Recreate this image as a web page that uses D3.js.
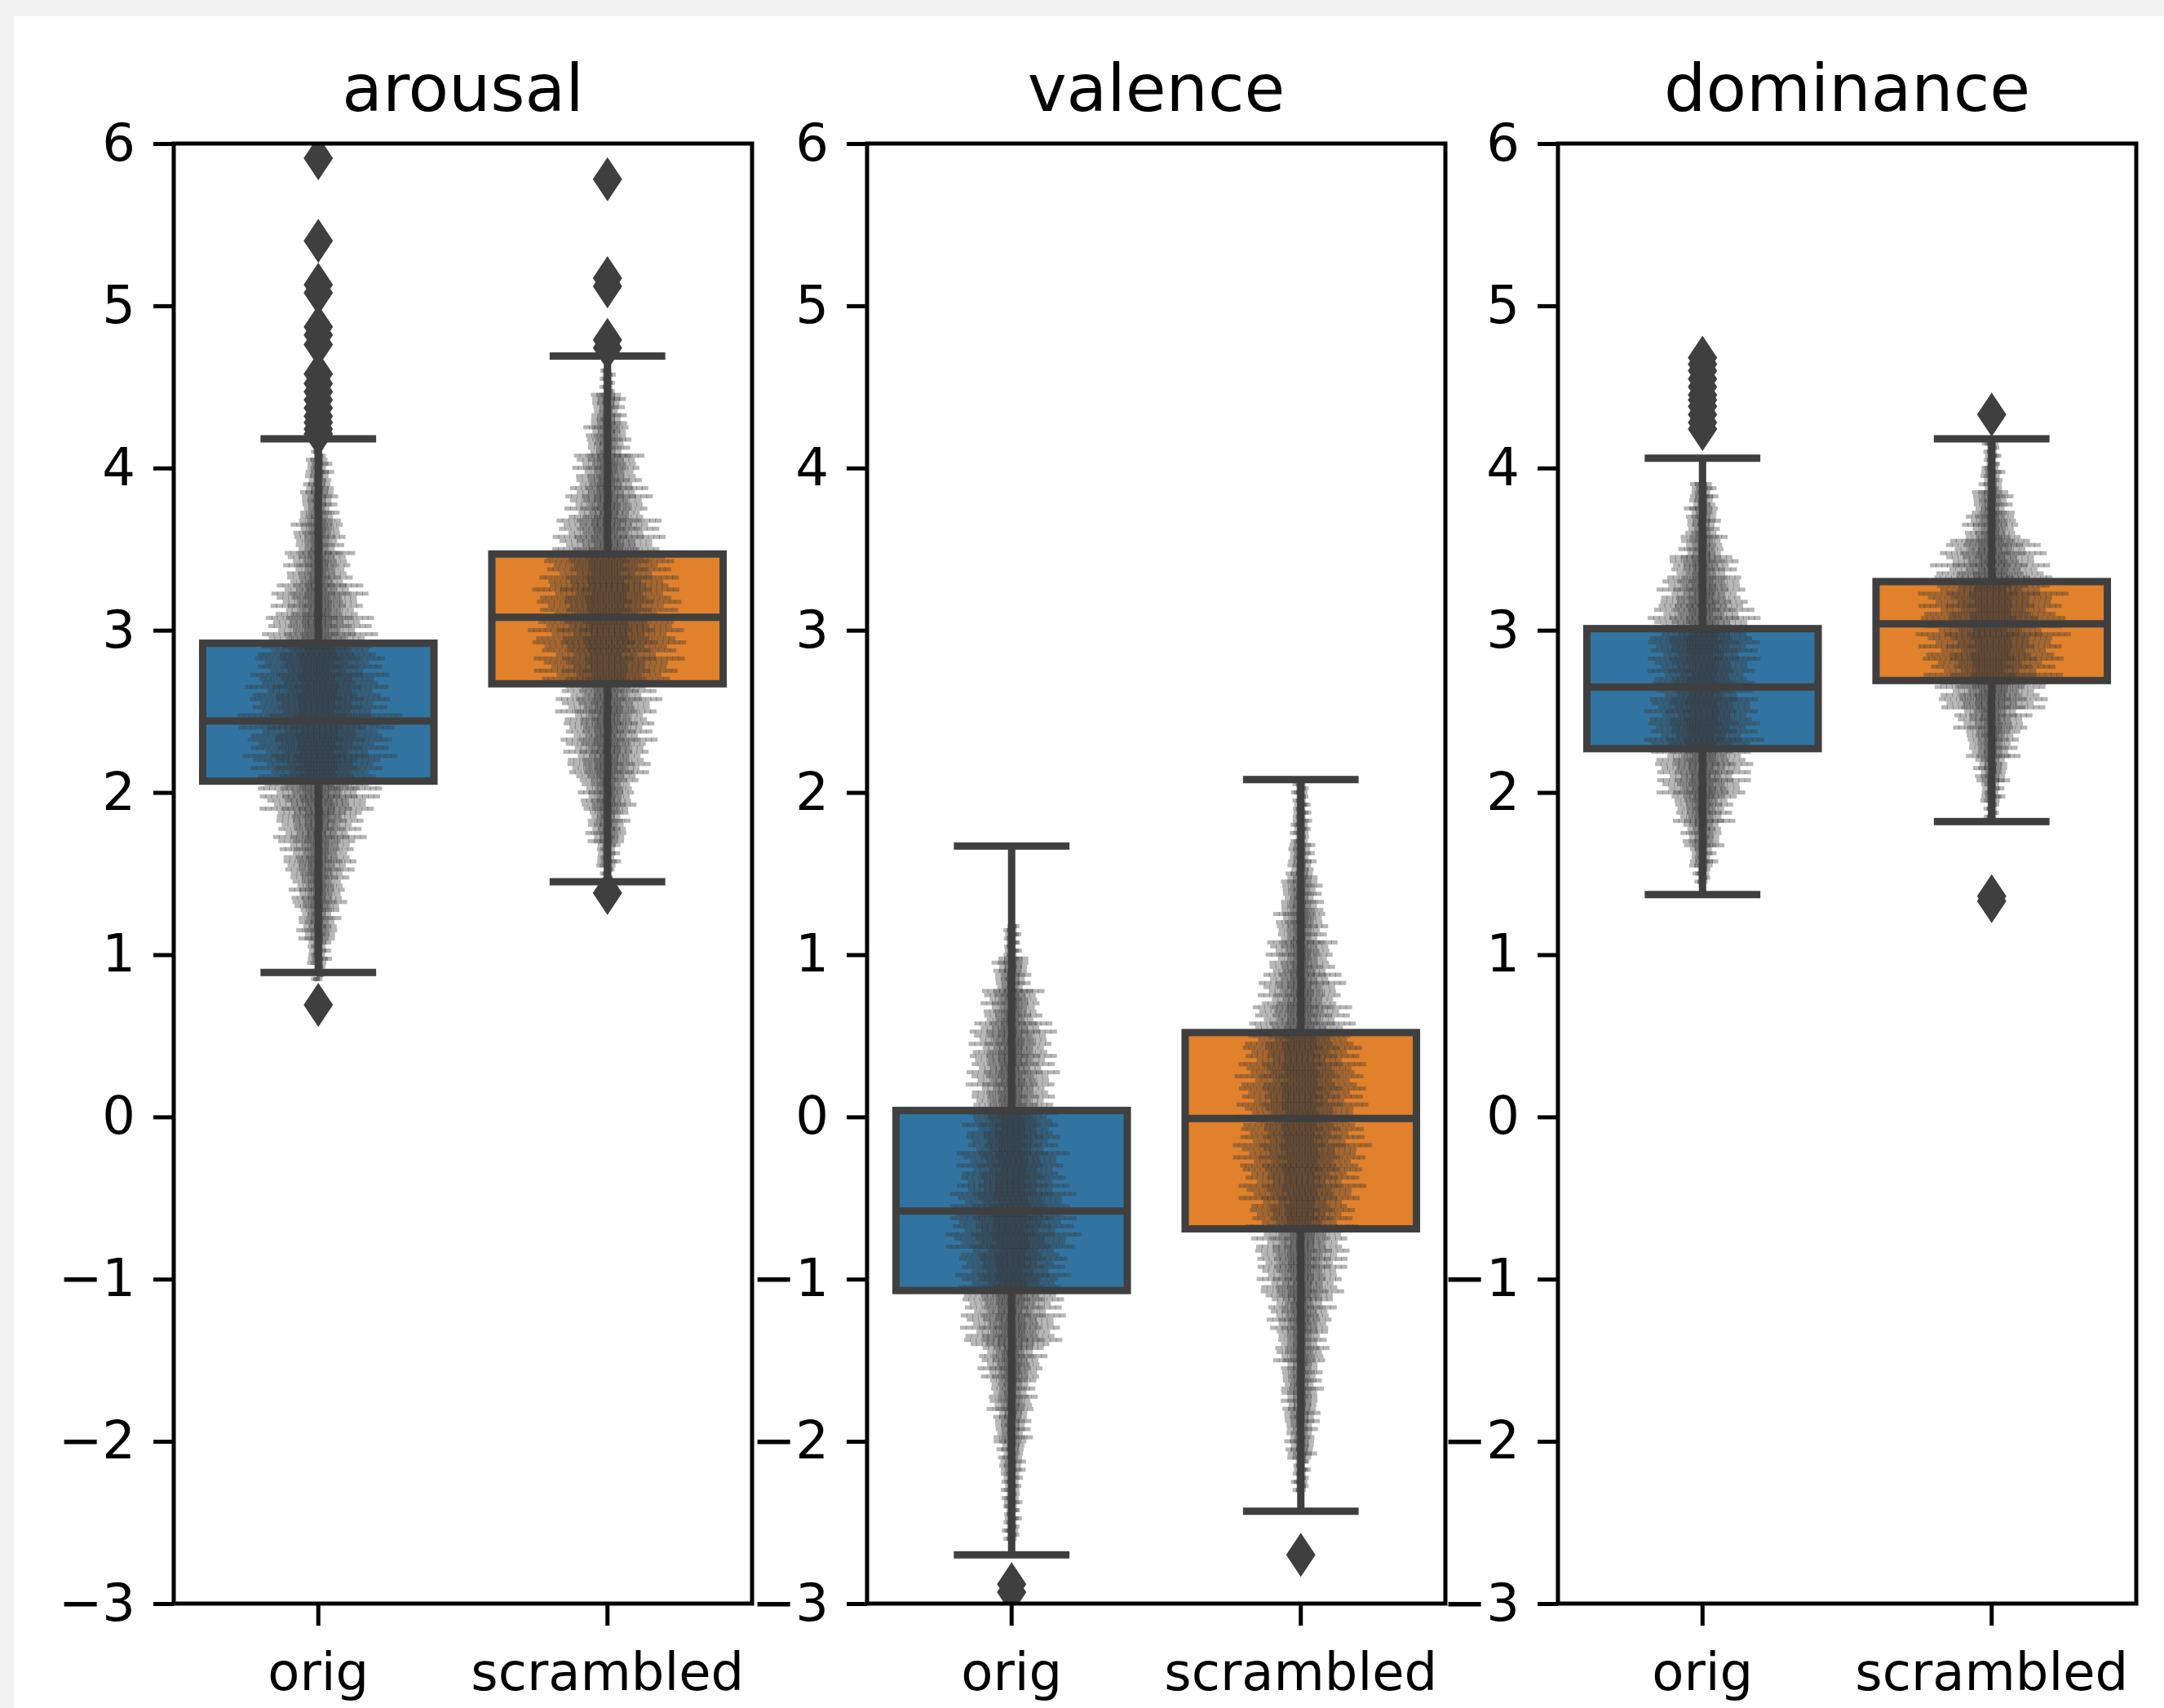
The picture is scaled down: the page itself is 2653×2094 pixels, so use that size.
<!DOCTYPE html>
<html lang="en">
<head>
<meta charset="UTF-8">
<title>arousal / valence / dominance</title>
<script src="https://d3js.org/d3.v7.min.js"></script>
<style>
    body { margin: 0; background: #f2f2f2; }
    #chart { position: absolute; left: 17px; top: 20px; background: #fff; }
    text { font-family: "DejaVu Sans", sans-serif; fill: #000; }
</style>
</head>
<body>
<svg id="chart" width="2636" height="2074"></svg>
<script>
// categories, panels and ticks
const categories = ["orig", "scrambled"];
const panels = ["arousal", "valence", "dominance"];
const yTicks = [-3, -2, -1, 0, 1, 2, 3, 4, 5, 6];
const boxColors = ["#3274a1", "#e1812c"];

// box stats per category: [lower whisker, q1, median, q3, upper whisker]
const arousalBox = [[0.89, 2.07, 2.44, 2.92, 4.18], [1.45, 2.67, 3.08, 3.47, 4.69]];
const valenceBox = [[-2.70, -1.07, -0.58, 0.04, 1.67], [-2.43, -0.69, -0.01, 0.52, 2.08]];
const dominanceBox = [[1.37, 2.27, 2.65, 3.01, 4.06], [1.82, 2.69, 3.04, 3.30, 4.18]];

// fliers
const arousalOutliers = [
    [5.91, 5.40, 5.13, 5.08, 4.87, 4.82, 4.76, 4.58, 4.52, 4.47, 4.42, 4.37, 4.32, 4.28, 4.24, 4.21, 0.69],
    [5.78, 5.17, 5.12, 4.79, 4.74, 1.38]
];
const valenceOutliers = [[-2.88, -2.93], [-2.70]];
const dominanceOutliers = [
    [4.68, 4.64, 4.60, 4.55, 4.50, 4.45, 4.42, 4.38, 4.33, 4.28, 4.24],
    [4.33, 1.36, 1.33]
];

// swarm spread: [value, half-width in category units]
const arousalSwarm = [
    [[4.15, .017], [4.0, .040], [3.8, .056], [3.6, .079], [3.4, .102], [3.2, .141], [3.0, .169], [2.8, .203],
     [2.6, .220], [2.45, .240], [2.3, .226], [2.1, .203], [1.95, .175], [1.8, .136], [1.6, .113], [1.4, .085],
     [1.2, .062], [1.0, .034], [0.9, .017]],
    [[4.55, .020], [4.4, .051], [4.2, .068], [4.0, .102], [3.8, .127], [3.6, .164], [3.4, .203], [3.2, .226],
     [3.0, .240], [2.8, .220], [2.6, .155], [2.4, .141], [2.2, .130], [2.0, .085], [1.8, .062], [1.6, .034],
     [1.5, .017]]
];
const valenceSwarm = [
    [[1.1, .023], [0.9, .056], [0.7, .090], [0.5, .127], [0.3, .136], [0.1, .130], [-0.1, .147], [-0.3, .164],
     [-0.5, .184], [-0.7, .198], [-0.9, .169], [-1.1, .158], [-1.3, .153], [-1.5, .099], [-1.7, .071],
     [-1.9, .056], [-2.1, .040], [-2.3, .028], [-2.5, .023]],
    [[2.0, .023], [1.8, .028], [1.6, .040], [1.4, .062], [1.2, .079], [1.0, .102], [0.8, .127], [0.6, .155],
     [0.4, .186], [0.2, .198], [0.0, .192], [-0.2, .203], [-0.4, .186], [-0.6, .164], [-0.8, .147],
     [-1.0, .130], [-1.2, .099], [-1.4, .079], [-1.6, .062], [-1.8, .056], [-2.0, .045], [-2.2, .023]]
];
const dominanceSwarm = [
    [[3.85, .040], [3.7, .051], [3.55, .068], [3.4, .107], [3.25, .136], [3.1, .164], [2.95, .175], [2.8, .164],
     [2.65, .158], [2.5, .175], [2.35, .175], [2.2, .153], [2.05, .136], [1.9, .090], [1.75, .062], [1.6, .040],
     [1.5, .023]],
    [[4.1, .023], [3.95, .034], [3.8, .062], [3.65, .085], [3.5, .155], [3.35, .184], [3.2, .220], [3.05, .226],
     [2.9, .220], [2.75, .203], [2.6, .170], [2.45, .113], [2.3, .079], [2.15, .051], [2.0, .034], [1.9, .020]]
];

const boxData = [arousalBox, valenceBox, dominanceBox];
const outlierData = [arousalOutliers, valenceOutliers, dominanceOutliers];
const swarmData = [arousalSwarm, valenceSwarm, dominanceSwarm];

// layout
const panelLeft = [196, 1046, 1893];
const panelTop = 156;
const width = 709;
const height = 1790;
const lineColor = "#3f3f3f";

const svg = d3.select("#chart");

const x = d3.scaleBand().domain(categories).range([0, width]).padding(0);
const y = d3.scaleLinear().domain([-3, 6]).range([height, 0]);
const boxW = x.step() * 0.8;

// row texture for the swarm
const rowMult = [1, 0.82, 1.12, 0.9, 0.97, 1.18, 0.78, 1.05, 0.88, 1.1];
const layers = [1, 0.62, 0.32];

panels.forEach((name, p) => {
    const g = svg.append("g")
        .attr("transform", `translate(${panelLeft[p]},${panelTop})`);

    g.append("clipPath").attr("id", "clip" + p)
        .append("rect").attr("width", width).attr("height", height);

    const plot = g.append("g").attr("clip-path", `url(#clip${p})`);

    categories.forEach((cat, c) => {
        const cx = x(cat) + x.bandwidth() / 2;
        const [wLo, q1, med, q3, wHi] = boxData[p][c];

        // box fill
        plot.append("rect")
            .attr("x", cx - boxW / 2)
            .attr("y", y(q3))
            .attr("width", boxW)
            .attr("height", y(q1) - y(q3))
            .attr("fill", boxColors[c]);

        // swarm points
        const prof = swarmData[p][c].slice().sort((a, b) => a[0] - b[0]);
        const dots = [];
        let row = 0;
        prof.forEach((lv, i) => {
            const lo = i === 0 ? lv[0] - (prof[1][0] - lv[0]) / 2 : (prof[i - 1][0] + lv[0]) / 2;
            const hi = i === prof.length - 1 ? lv[0] + (lv[0] - prof[i - 1][0]) / 2 : (prof[i + 1][0] + lv[0]) / 2;
            for (let py = y(lo); py > y(hi); py -= 5) {
                const w = lv[1] * x.step() * rowMult[row % rowMult.length];
                layers.forEach(L => {
                    const half = Math.max(3, w * L);
                    const n = Math.max(1, Math.round(2 * half / 7));
                    const sp = 2 * half / n;
                    for (let k = 0; k < n; k++) {
                        dots.push([cx - half + (k + 0.5) * sp + (row % 2 ? 2 : -2), py]);
                    }
                });
                row++;
            }
        });
        plot.append("g")
            .selectAll("rect")
            .data(dots)
            .join("rect")
            .attr("x", d => d[0] - 4)
            .attr("y", d => d[1] - 2.5)
            .attr("width", 8)
            .attr("height", 5)
            .attr("fill", "#383838")
            .attr("fill-opacity", 0.37);

        // whiskers and caps
        plot.append("line")
            .attr("x1", cx).attr("x2", cx)
            .attr("y1", y(wHi)).attr("y2", y(q3))
            .attr("stroke", lineColor).attr("stroke-width", 9);
        plot.append("line")
            .attr("x1", cx).attr("x2", cx)
            .attr("y1", y(q1)).attr("y2", y(wLo))
            .attr("stroke", lineColor).attr("stroke-width", 9);
        [wLo, wHi].forEach(v => {
            plot.append("line")
                .attr("x1", cx - boxW / 4).attr("x2", cx + boxW / 4)
                .attr("y1", y(v)).attr("y2", y(v))
                .attr("stroke", lineColor).attr("stroke-width", 9);
        });

        // box outline + median
        plot.append("rect")
            .attr("x", cx - boxW / 2)
            .attr("y", y(q3))
            .attr("width", boxW)
            .attr("height", y(q1) - y(q3))
            .attr("fill", "none")
            .attr("stroke", lineColor)
            .attr("stroke-width", 9);
        plot.append("line")
            .attr("x1", cx - boxW / 2).attr("x2", cx + boxW / 2)
            .attr("y1", y(med)).attr("y2", y(med))
            .attr("stroke", lineColor).attr("stroke-width", 9);

        // fliers (thin diamonds)
        plot.append("g")
            .selectAll("path")
            .data(outlierData[p][c])
            .join("path")
            .attr("transform", d => `translate(${cx},${y(d)})`)
            .attr("d", "M0,-27L18,0L0,27L-18,0Z")
            .attr("fill", lineColor);
    });

    // frame
    g.append("rect")
        .attr("width", width)
        .attr("height", height)
        .attr("fill", "none")
        .attr("stroke", "#000")
        .attr("stroke-width", 5);

    // axes
    const yAxis = g.append("g")
        .call(d3.axisLeft(y).tickValues(yTicks).tickSize(25).tickPadding(22));
    const xAxis = g.append("g")
        .attr("transform", `translate(0,${height})`)
        .call(d3.axisBottom(x).tickSize(27).tickPadding(34));
    [yAxis, xAxis].forEach(a => {
        a.select(".domain").remove();
        a.selectAll(".tick line").attr("stroke", "#000").attr("stroke-width", 5);
        a.selectAll(".tick text")
            .attr("font-size", 64)
            .attr("font-family", "DejaVu Sans, sans-serif")
            .attr("fill", "#000");
    });

    // title
    g.append("text")
        .attr("x", width / 2)
        .attr("y", -40)
        .attr("text-anchor", "middle")
        .attr("font-size", 81)
        .text(name);
});
</script>
</body>
</html>
